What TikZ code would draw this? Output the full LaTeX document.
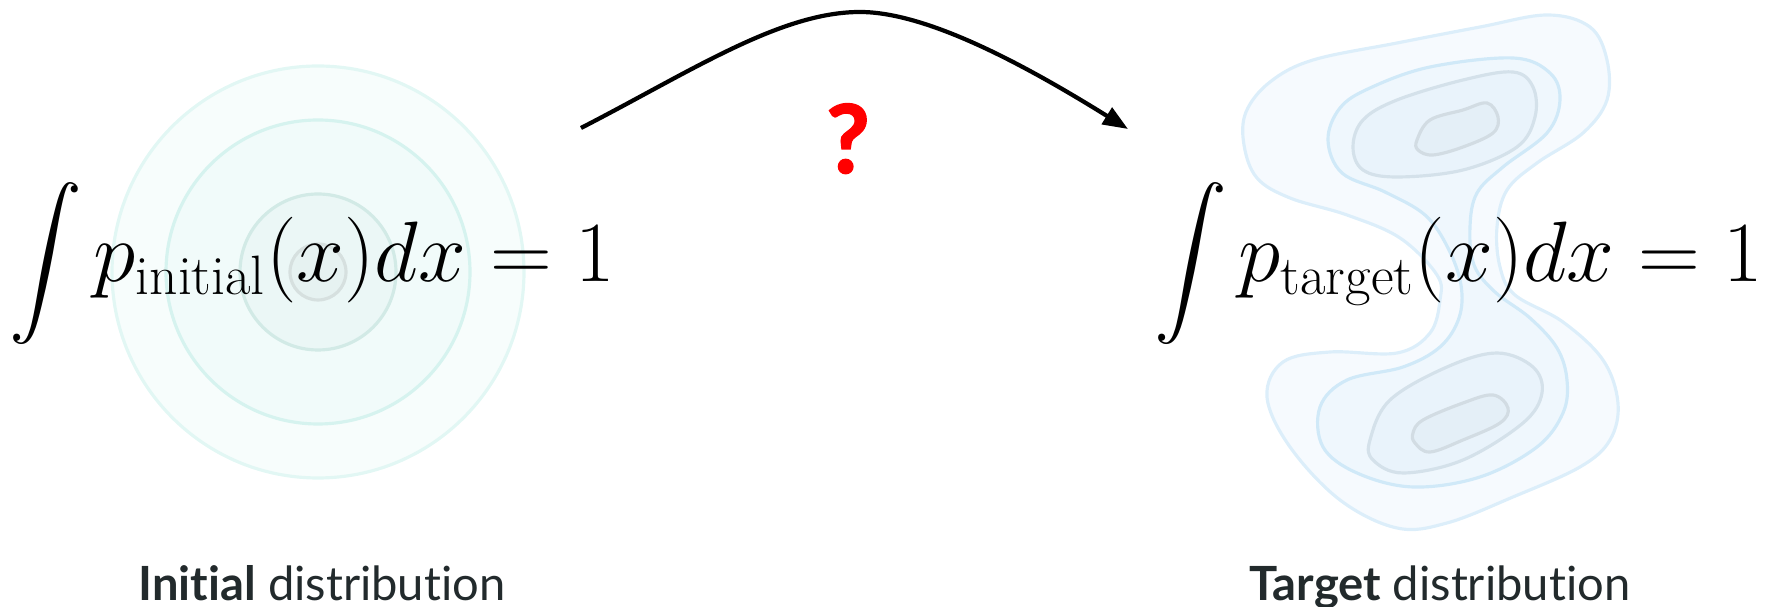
\documentclass[tikz,border=0pt]{standalone}
\usepackage{amsmath}
\usepackage{graphicx}
\usepackage{xcolor}
\usepackage{fontspec}
\newfontfamily\labelfont[Ligatures=NoCommon]{Lato}
\newfontfamily\qmarkfont[BoldFeatures={FakeBold=1.6}]{Lato}
\usepackage{tikz}
\usetikzlibrary{arrows.meta, positioning}
\definecolor{inkgray}{RGB}{34, 42, 44}
\definecolor{qred}{RGB}{255, 0, 0}
% initial (teal) rings
\definecolor{tealfillA}{RGB}{247, 253, 252}
\definecolor{teallineA}{RGB}{226, 247, 244}
\definecolor{tealfillB}{RGB}{241, 251, 250}
\definecolor{teallineB}{RGB}{214, 243, 239}
\definecolor{tealfillC}{RGB}{235, 247, 246}
\definecolor{teallineC}{RGB}{210, 234, 230}
\definecolor{tealfillD}{RGB}{230, 242, 241}
\definecolor{teallineD}{RGB}{214, 224, 223}
% target (blue) contours
\definecolor{bluefillA}{RGB}{246, 250, 254}
\definecolor{bluelineA}{RGB}{220, 238, 250}
\definecolor{bluefillB}{RGB}{239, 247, 253}
\definecolor{bluelineB}{RGB}{208, 233, 248}
\definecolor{bluefillC}{RGB}{233, 243, 251}
\definecolor{bluelineC}{RGB}{212, 225, 234}
\definecolor{bluefillD}{RGB}{228, 239, 247}
\definecolor{bluelineD}{RGB}{210, 220, 227}

\begin{document}
\begin{tikzpicture}[
    x=0.01cm, y=-0.01cm,
    integralnode/.style={inner sep=0pt, anchor=base west, font=\fontsize{22}{26}\selectfont},
    formulanode/.style={inner sep=0pt, anchor=base west, font=\fontsize{23}{28}\selectfont},
    captionnode/.style={inner sep=0pt, anchor=base, text=inkgray, font=\labelfont\fontsize{13.4}{16}\selectfont},
    qmarknode/.style={inner sep=0pt, anchor=base, text=qred, font=\qmarkfont\bfseries\fontsize{27}{32}\selectfont},
    arrow/.style={-{Triangle[length=0.25cm, width=0.19cm]}, line width=1.2pt, black}
]
    \useasboundingbox (0,0) rectangle (1768,607);

    % Initial distribution rings
    \draw[line width=0.9pt, draw=teallineA, fill=tealfillA] (318,272) circle[radius=206];
    \draw[line width=0.9pt, draw=teallineB, fill=tealfillB] (318,272) circle[radius=152];
    \draw[line width=0.9pt, draw=teallineC, fill=tealfillC] (318,272) circle[radius=78];
    \draw[line width=0.9pt, draw=teallineD, fill=tealfillD] (318,272) circle[radius=28];

    % Target distribution contours
    \draw[draw=bluelineA, fill=bluefillA, line width=0.9pt] plot[smooth cycle, tension=0.6] coordinates {
        (1547,15) (1590,27) (1607,60) (1607,100) (1583,133) (1537,163) (1507,190)
        (1497,227) (1500,267) (1515,295) (1563,322) (1603,360) (1618,403) (1610,440)
        (1580,467) (1513,497) (1447,523) (1397,528) (1340,500) (1290,447) (1267,397)
        (1283,362) (1330,352) (1397,353) (1430,333) (1440,300) (1437,275) (1400,238)
        (1347,215) (1290,198) (1257,178) (1244,145) (1246,112) (1270,82) (1313,60)
        (1397,43) (1480,27)};
    \draw[draw=bluelineB, fill=bluefillB, line width=0.9pt] plot[smooth cycle, tension=0.6] coordinates {
        (1513,58) (1550,73) (1560,100) (1547,133) (1503,167) (1477,193) (1470,227)
        (1474,265) (1495,292) (1530,318) (1557,348) (1567,380) (1563,413) (1537,447)
        (1480,477) (1413,487) (1357,473) (1323,447) (1320,407) (1347,380) (1403,367)
        (1440,347) (1459,318) (1461,285) (1448,248) (1425,215) (1385,192) (1342,173)
        (1328,140) (1340,108) (1370,88) (1430,67)};
    \draw[draw=bluelineC, fill=bluefillC, line width=0.9pt] plot[smooth cycle, tension=0.6] coordinates {
        (1353,147) (1363,120) (1397,100) (1463,80) (1513,72) (1533,87) (1535,117)
        (1517,147) (1463,170) (1397,177) (1363,170)};
    \draw[draw=bluelineD, fill=bluefillD, line width=0.9pt] plot[smooth cycle, tension=0.6] coordinates {
        (1417,140) (1430,120) (1463,110) (1487,103) (1498,117) (1493,133) (1463,147)
        (1433,155) (1418,150)};
    \draw[draw=bluelineC, fill=bluefillC, line width=0.9pt] plot[smooth cycle, tension=0.6] coordinates {
        (1370,440) (1390,400) (1447,367) (1497,353) (1533,367) (1542,393) (1523,423)
        (1463,460) (1403,473) (1373,460)};
    \draw[draw=bluelineD, fill=bluefillD, line width=0.9pt] plot[smooth cycle, tension=0.6] coordinates {
        (1413,433) (1423,420) (1463,403) (1493,395) (1508,408) (1500,423) (1463,440)
        (1430,452) (1415,443)};

    % Normalisation formulas
    \node[integralnode] (initint) at (9,282) {$\displaystyle\int$};
    \node[formulanode] (initeq) at (93,282) {\scalebox{0.98}{$p_{\mathrm{initial}}(x)dx = 1$}};
    \node[integralnode] (targetint) at (1154,282) {$\displaystyle\int$};
    \node[formulanode] (targeteq) at (1238,282) {\scalebox{0.98}{$p_{\mathrm{target}}(x)dx = 1$}};

    % Unknown map
    \coordinate (arrowstart) at (581,128);
    \coordinate (arrowtop) at (860,12);
    \coordinate (arrowend) at (1128,129);
    \draw[arrow] (arrowstart) .. controls (690,72) and (780,12) .. (arrowtop)
                              .. controls (930,12) and (1033,70) .. (arrowend);
    \node[qmarknode] (question) at (848,173) {?};

    % Captions
    \node[captionnode] (initlabel) at (322,601) {\textbf{Initial} distribution};
    \node[captionnode] (targetlabel) at (1440,601) {\textbf{Target} distribution};
\end{tikzpicture}
\end{document}
